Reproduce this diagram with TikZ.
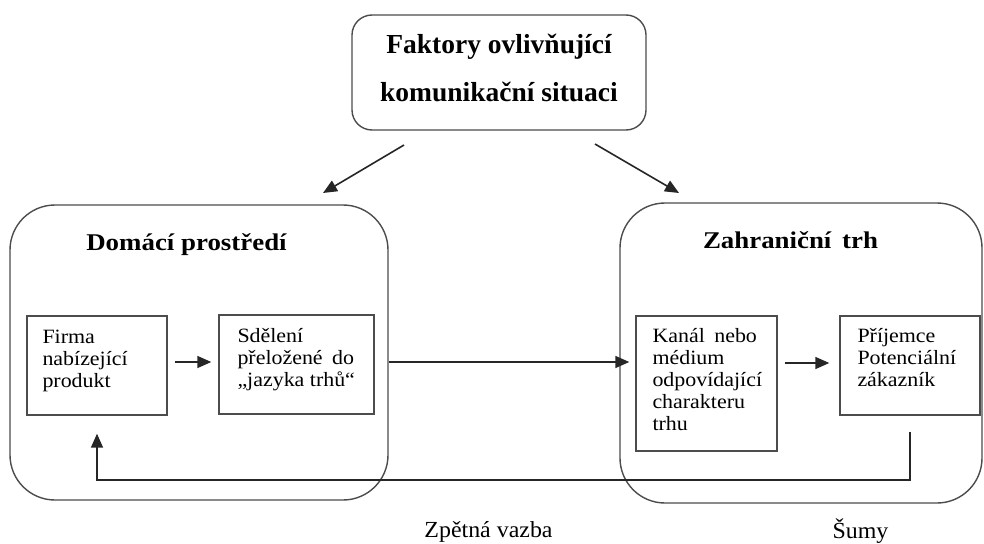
\documentclass[tikz,border=0pt]{standalone}
\usepackage{fontspec}
\setmainfont{Liberation Serif}
\newfontfamily\bodyf[FakeStretch=1.08]{Liberation Serif}
\newfontfamily\headf[FakeStretch=1.12]{Liberation Serif}
\newfontfamily\topf{Liberation Serif}
\newfontfamily\labf[FakeStretch=1.04]{Liberation Serif}
\usetikzlibrary{arrows.meta}
\tikzset{
  frame/.style={draw=black!70, line width=1.4pt, inner sep=0pt},
  bigbox/.style={frame, rounded corners=45pt},
  topbox/.style={frame, rounded corners=20pt},
  smallbox/.style={frame},
  txt/.style={inner sep=0pt, align=left, anchor=north west,
    font=\bodyf\fontsize{20.3}{22}\selectfont},
  headtxt/.style={inner sep=0pt, anchor=base,
    font=\headf\bfseries\fontsize{24}{28}\selectfont},
  toptxt/.style={inner sep=0pt, anchor=base,
    font=\topf\bfseries\fontsize{27.5}{32}\selectfont},
  labtxt/.style={inner sep=0pt, anchor=base,
    font=\labf\fontsize{23}{26}\selectfont},
  arr/.style={draw=black!85, line width=1.6pt, -{Triangle[length=14pt,width=12pt]}}
}
\begin{document}
\begin{tikzpicture}[x=1pt,y=-1pt]
\useasboundingbox (0,0) rectangle (984,543);
% top box
\node[topbox, minimum width=294pt, minimum height=115pt] (top) at (499,72.5) {};
\node[toptxt] (topA) at (499,53) {Faktory ovlivňující};
\node[toptxt] (topB) at (499,101) {komunikační situaci};
% big boxes
\node[bigbox, minimum width=378pt, minimum height=295pt] (dom) at (199,352.5) {};
\node[headtxt] (domT) at (186.5,250) {Domácí prostředí};
\node[bigbox, minimum width=362pt, minimum height=300pt] (zah) at (801,353) {};
\node[headtxt] (zahT) at (790.5,248) {Zahraniční\hspace{4pt} trh};
% small boxes
\node[smallbox, minimum width=140pt, minimum height=99pt] (firma) at (97,365.5) {};
\node[smallbox, minimum width=155pt, minimum height=99pt] (sdel) at (296.5,364.5) {};
\node[smallbox, minimum width=141pt, minimum height=135pt] (kanal) at (706.5,383.5) {};
\node[smallbox, minimum width=140pt, minimum height=99pt] (prij) at (910,365.5) {};
\node[txt] (firmaT) at ([xshift=16pt,yshift=-11pt]firma.north west)
  {\rule{0pt}{17pt}Firma\\nabízející\\produkt};
\node[txt] (sdelT) at ([xshift=19pt,yshift=-11pt]sdel.north west)
  {\rule{0pt}{17pt}Sdělení\\přeložené\hspace{4pt} do\\„jazyka trhů“};
\node[txt] (kanalT) at ([xshift=17pt,yshift=-10pt]kanal.north west)
  {\rule{0pt}{17pt}Kanál\hspace{4pt} nebo\\médium\\odpovídající\\charakteru\\trhu};
\node[txt] (prijT) at ([xshift=18pt,yshift=-10pt]prij.north west)
  {\rule{0pt}{17pt}Příjemce\\Potenciální\\zákazník};
% arrows from top
\coordinate (a1s) at (404,145);
\coordinate (a1e) at (323,193);
\coordinate (a2s) at (595,144);
\coordinate (a2e) at (679,193);
\draw[arr] (a1s) -- (a1e);
\draw[arr] (a2s) -- (a2e);
% flow arrows
\draw[arr] ([xshift=7pt,yshift=3.5pt]firma.east) -- ([xshift=-7pt,yshift=2.5pt]sdel.west);
\draw[arr] ([yshift=2.5pt]sdel.east -| dom.east) -- ([xshift=-6pt,yshift=2.5pt]sdel.east -| kanal.west);
\draw[arr] ([xshift=7pt,yshift=2.5pt]firma.east -| kanal.east) -- ([xshift=-10pt,yshift=2.5pt]prij.west);
% feedback
\draw[arr] ([yshift=-16pt]prij.south) -- ++(0,48) -| ([yshift=-18pt]firma.south);
% labels
\node[labtxt] (zpet) at (488.5,537) {Zpětná vazba};
\node[labtxt] (sumy) at (860.5,538) {Šumy};
\end{tikzpicture}
\end{document}
